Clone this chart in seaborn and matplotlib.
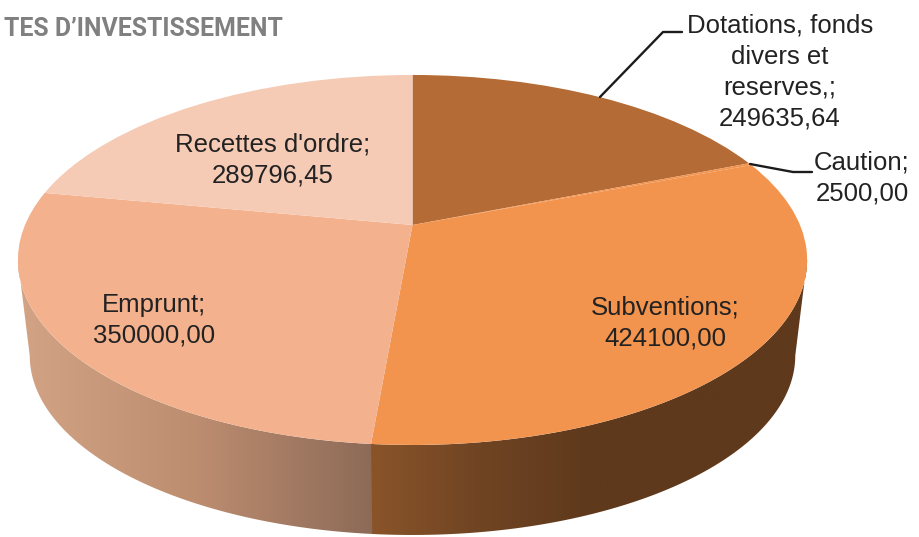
import numpy as np
import matplotlib
matplotlib.use("Agg")
import matplotlib.pyplot as plt
from matplotlib.colors import LinearSegmentedColormap
from matplotlib.patches import Polygon
from matplotlib.path import Path
from matplotlib.transforms import Transform
import seaborn as sns

categories = ["Dotations, fonds\ndivers et\nreserves,", "Caution", "Subventions", "Emprunt", "Recettes d'ordre"]
values = [249635.64, 2500.00, 424100.00, 350000.00, 289796.45]
value_labels = ["249635,64", "2500,00", "424100,00", "350000,00", "289796,45"]
colors = ["#b46b35", "#f2934e", "#f2934e", "#f3b18e", "#f6cbb5"]
title = "TES D\u2019INVESTISSEMENT"

# perspective of the pie in pixels, fitted on the picture
CX, CY = 412.5, 225.0
AX_X, AX_Y = 387.5, 178.4
K = 0.189
WALL_SCALE, WALL_DROP = 0.97, 96.6


def project(x, y):
    s = 1.0 / (1.0 + K * y)
    return CX + AX_X * x * s, CY - AX_Y * y * s


class Tilt(Transform):
    input_dims = 2
    output_dims = 2
    has_inverse = False

    def transform_non_affine(self, xy):
        xy = np.asarray(xy)
        px, py = project(xy[:, 0], xy[:, 1])
        return np.column_stack([px, py])

    def transform_path_non_affine(self, path):
        return Path(self.transform_non_affine(path.vertices), path.codes)


def rim(theta1, theta2):
    t = np.radians(np.linspace(theta1, theta2, 200))
    return project(np.cos(t), np.sin(t))


def wall_polygon(theta1, theta2):
    px, py = rim(theta1, theta2)
    bx = CX + (px - CX) * WALL_SCALE
    by = CY + WALL_DROP + (py - CY) * WALL_SCALE
    return np.column_stack([np.r_[px, bx[::-1]], np.r_[py, by[::-1]]])


sns.set_theme(style="white")
plt.rcParams["font.family"] = ["Liberation Sans", "DejaVu Sans"]

fig = plt.figure(figsize=(9.19, 5.37), dpi=100)
ax = fig.add_axes([0, 0, 1, 1])

wedges, _ = ax.pie(values, colors=sns.color_palette(colors), startangle=90,
                   counterclock=False, radius=1)
ax.set_aspect("auto")
tilt = Tilt() + ax.transData
for w in wedges:
    w.set_transform(tilt)
    w.set_zorder(3)
    w.set_edgecolor("none")
    w.set_linewidth(0)

# side walls: only Subventions and Emprunt face the viewer
tangent = np.degrees(np.arcsin(K))
wall_left = LinearSegmentedColormap.from_list("wl", ["#d2a384", "#bd8d70", "#8c6a57"])
wall_right = LinearSegmentedColormap.from_list("wr", ["#8a5429", "#6f4423", "#5f391c", "#5f391c", "#5f391c"])
split = wedges[2].theta1
walls = [
    (wall_left, wall_polygon(split + 0.3, tangent - 180)),
    (wall_right, wall_polygon(-tangent, split)),
]
for cmap, verts in walls:
    x0, x1 = verts[:, 0].min(), verts[:, 0].max()
    grad = np.linspace(0, 1, 256)[None, :]
    im = ax.imshow(grad, cmap=cmap, aspect="auto", zorder=2,
                   extent=(x0, x1, verts[:, 1].max(), verts[:, 1].min()))
    patch = Polygon(verts, closed=True, transform=ax.transData, fc="none", ec="none")
    ax.add_patch(patch)
    im.set_clip_path(patch)
ax.set_xlim(0, 919)
ax.set_ylim(537, 0)

ink = "#222222"
size = 18.5
ax.plot([600, 663, 682], [97, 32, 32], color="#1c1c1c", lw=1.7, zorder=4, solid_joinstyle="round")
ax.plot([750, 793, 812], [164, 172, 172], color="#1c1c1c", lw=1.7, zorder=4, solid_joinstyle="round")

label_pos = [(780, 72), (862, 178), (665, 323), (154, 320), (273, 160)]
for name, val, (lx, ly) in zip(categories, value_labels, label_pos):
    ax.text(lx, ly, f"{name};\n{val}", ha="center", va="center", fontsize=size,
            color=ink, linespacing=1.36, zorder=5)

ax.text(283, 36, title, ha="right", va="baseline", fontsize=17.9, fontweight="bold",
        color="#808080", family=["Roboto", "Liberation Sans", "DejaVu Sans"])

fig.savefig("out.png", dpi=100)
